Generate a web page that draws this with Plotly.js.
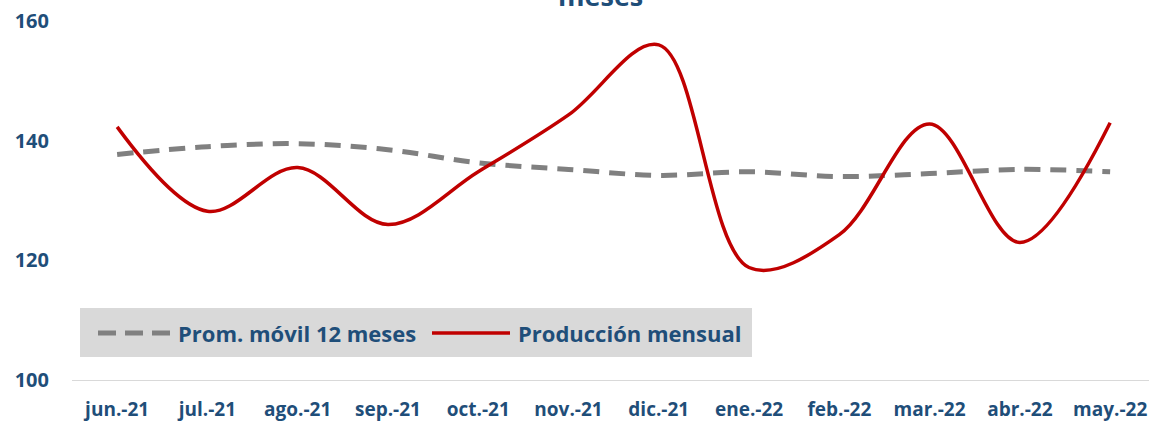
<!DOCTYPE html>
<html><head><meta charset="utf-8">
<script src="https://cdn.plot.ly/plotly-3.0.1.min.js"></script>
<style>body{margin:0;background:#fff}#c{width:1149px;height:422px}</style>
</head><body><div id="c"></div>
<script>
const months = ["jun.-21","jul.-21","ago.-21","sep.-21","oct.-21","nov.-21","dic.-21","ene.-22","feb.-22","mar.-22","abr.-22","may.-22"];
const promMovil = [137.7,139.0,139.5,138.5,136.3,135.2,134.2,134.8,134.0,134.5,135.2,134.8];
const produccion = [142.3,128.2,135.5,126.0,134.8,144.3,156.0,118.8,124.3,142.8,123.0,143.0];
const yTicks = [100,120,140,160];

const W = 1149, H = 422, L = 72, R = 0, T = 21, B = 42;
const pw = W - L - R, ph = H - T - B;
const px2x = p => (p - L) / pw;
const py2y = p => (H - B - p) / ph;
const blue = "#1F4E79";
const font = "'Open Sans', sans-serif";
const dash = "16px,10px";

const traces = [
  {x: months, y: promMovil, name: "Prom. móvil 12 meses", type: "scatter", mode: "lines",
   line: {color: "#808080", width: 5, dash: dash, shape: "spline", smoothing: 1}, showlegend: false},
  {x: months, y: produccion, name: "Producción mensual", type: "scatter", mode: "lines",
   line: {color: "#C00000", width: 3.5, shape: "spline", smoothing: 1}, showlegend: false}
];

const layout = {
  width: W, height: H,
  margin: {l: L, r: R, t: T, b: B},
  paper_bgcolor: "#fff", plot_bgcolor: "#fff",
  showlegend: false,
  xaxis: {type: "category", range: [-0.5, -0.5 + pw / ((1110 - 117) / 11)], showgrid: false,
    showline: true, linecolor: "#d9d9d9", linewidth: 1, zeroline: false, ticks: "",
    ticklabelstandoff: 12, tickfont: {family: font, size: 19, color: blue, weight: "bold"}},
  yaxis: {range: [100, 160], tickvals: yTicks, showgrid: false, showline: false, zeroline: false,
    ticks: "", ticklabelstandoff: 22, tickfont: {family: font, size: 20, color: blue, weight: "bold"}},
  shapes: [
    {type: "rect", xref: "paper", yref: "paper", x0: px2x(80), x1: px2x(752), y0: py2y(357), y1: py2y(308),
     fillcolor: "#d9d9d9", line: {width: 0}, layer: "below"},
    {type: "line", xref: "paper", yref: "paper", x0: px2x(98), x1: px2x(170), y0: py2y(333), y1: py2y(333),
     line: {color: "#808080", width: 5, dash: "18px,9px"}},
    {type: "line", xref: "paper", yref: "paper", x0: px2x(432), x1: px2x(510), y0: py2y(333), y1: py2y(333),
     line: {color: "#C00000", width: 3.5}}
  ],
  annotations: [
    {text: "Prom. móvil 12 meses", xref: "paper", yref: "paper", x: px2x(176), y: py2y(333),
     xanchor: "left", yanchor: "middle", showarrow: false, font: {family: font, size: 22, color: blue, weight: "bold"}},
    {text: "Producción mensual", xref: "paper", yref: "paper", x: px2x(516), y: py2y(333),
     xanchor: "left", yanchor: "middle", showarrow: false, font: {family: font, size: 22, color: blue, weight: "bold"}},
    {text: "meses", xref: "paper", yref: "paper", x: px2x(600), y: py2y(16),
     xanchor: "center", yanchor: "bottom", showarrow: false, font: {family: font, size: 27, color: blue, weight: "bold"}}
  ]
};
Plotly.newPlot("c", traces, layout, {displayModeBar: false, staticPlot: true});
</script></body></html>
